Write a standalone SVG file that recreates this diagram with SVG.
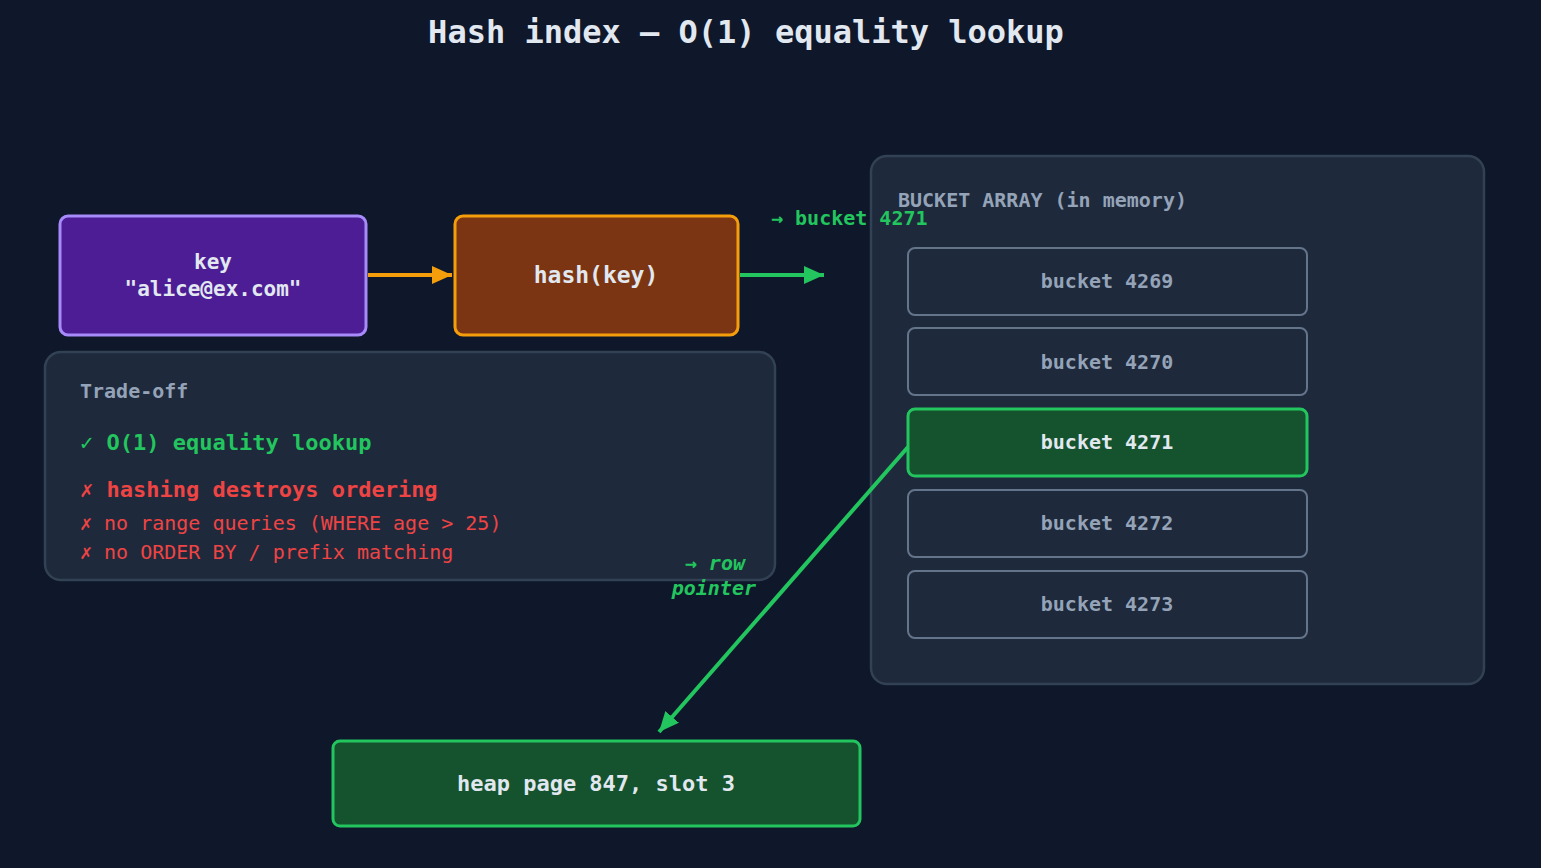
<svg xmlns="http://www.w3.org/2000/svg" width="1541" height="868" viewBox="0 0 1541 868">
<defs>
<marker id="ao" markerWidth="10" markerHeight="10" refX="9" refY="5" orient="auto" markerUnits="userSpaceOnUse"><path d="M0,0 L18,5 L0,10z" transform="scale(0.55,1)" fill="#f59e0b"/></marker>
<marker id="ag" markerWidth="22" markerHeight="20" refX="20" refY="10" orient="auto" markerUnits="userSpaceOnUse"><path d="M0,1 L20,10 L0,19z" fill="#22c55e"/></marker>
<marker id="ao2" markerWidth="22" markerHeight="20" refX="20" refY="10" orient="auto" markerUnits="userSpaceOnUse"><path d="M0,1 L20,10 L0,19z" fill="#f59e0b"/></marker>
</defs>
<style>
text{font-family:"DejaVu Sans Mono","Liberation Mono",monospace}
.b{font-weight:bold}
.bk{fill:#1e293b;stroke:#64748b;stroke-width:2}
.bt{fill:#94a3b8;font-size:20px;font-weight:bold;text-anchor:middle}
.panel{fill:#1e293b;stroke:#334155;stroke-width:2.5}
</style>
<rect width="1541" height="868" fill="#0f172a"/>
<text x="746" y="43" text-anchor="middle" font-size="32" class="b" fill="#e2e8f0">Hash index — O(1) equality lookup</text>
<g id="bucket-array">
<rect class="panel" x="871" y="156" width="613" height="528" rx="16"/>
<text x="898" y="207" font-size="20" class="b" fill="#94a3b8">BUCKET ARRAY (in memory)</text>
</g>
<g id="b4269"><rect class="bk" x="908" y="248" width="399" height="67" rx="7"/><text class="bt" x="1107" y="288">bucket 4269</text></g>
<g id="b4270"><rect class="bk" x="908" y="328" width="399" height="67" rx="7"/><text class="bt" x="1107" y="369">bucket 4270</text></g>
<g id="b4271"><rect x="908" y="409" width="399" height="67" rx="7" fill="#14532d" stroke="#22c55e" stroke-width="3"/><text class="bt" x="1107" y="449" fill="#e2e8f0" style="fill:#e2e8f0">bucket 4271</text></g>
<g id="b4272"><rect class="bk" x="908" y="490" width="399" height="67" rx="7"/><text class="bt" x="1107" y="530">bucket 4272</text></g>
<g id="b4273"><rect class="bk" x="908" y="571" width="399" height="67" rx="7"/><text class="bt" x="1107" y="611">bucket 4273</text></g>
<g id="key"><rect x="60" y="216" width="306" height="119" rx="8" fill="#4c1d95" stroke="#a78bfa" stroke-width="3"/>
<text x="213" y="269" text-anchor="middle" font-size="21" class="b" fill="#e2e8f0">key</text>
<text x="213" y="296" text-anchor="middle" font-size="21" class="b" fill="#e2e8f0">"alice@ex.com"</text></g>
<g id="hash"><rect x="455" y="216" width="283" height="119" rx="8" fill="#7c3512" stroke="#f59e0b" stroke-width="3"/>
<text x="596" y="283" text-anchor="middle" font-size="23" class="b" fill="#e2e8f0">hash(key)</text></g>
<g id="tradeoff"><rect class="panel" x="45" y="352" width="730" height="228" rx="16"/>
<text x="80" y="398" font-size="20" class="b" fill="#94a3b8">Trade-off</text>
<text x="80" y="450" font-size="22" class="b" fill="#22c55e">✓  O(1) equality lookup</text>
<text x="80" y="497" font-size="22" class="b" fill="#ef4444">✗  hashing destroys ordering</text>
<text x="80" y="530" font-size="20" fill="#ef4444">✗  no range queries  (WHERE age &gt; 25)</text>
<text x="80" y="559" font-size="20" fill="#ef4444">✗  no ORDER BY  /  prefix matching</text></g>
<g id="heap"><rect x="333" y="741" width="527" height="85" rx="7" fill="#14532d" stroke="#22c55e" stroke-width="3"/>
<text x="596" y="791" text-anchor="middle" font-size="22" class="b" fill="#e2e8f0">heap page 847, slot 3</text></g>
<g id="connectors" fill="none" stroke-width="4">
<line x1="368" y1="275" x2="452" y2="275" stroke="#f59e0b" marker-end="url(#ao2)"/>
<line x1="740" y1="275" x2="824" y2="275" stroke="#22c55e" marker-end="url(#ag)"/>
<line x1="908" y1="447" x2="659" y2="732" stroke="#22c55e" marker-end="url(#ag)"/>
<text x="771" y="225" font-size="20" class="b" fill="#22c55e" stroke="none">→ bucket  4271</text>
<text x="745" y="570" font-size="20" class="b" font-style="italic" text-anchor="end" fill="#22c55e" stroke="none">→ row</text>
<text x="756" y="595" font-size="20" class="b" font-style="italic" text-anchor="end" fill="#22c55e" stroke="none">pointer</text>
</g>
</svg>
